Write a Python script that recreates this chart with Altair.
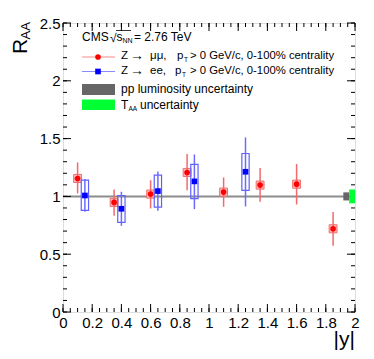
import altair as alt
import pandas as pd
import numpy as np

# ---------------- data ----------------
mu_y = [0.1, 0.35, 0.6, 0.85, 1.1, 1.35, 1.6, 1.85]
mu_raa = [1.155, 0.948, 1.02, 1.207, 1.037, 1.098, 1.106, 0.72]
mu_lo = [1.026, 0.832, 0.896, 1.054, 0.91, 0.953, 0.93, 0.573]
mu_hi = [1.294, 1.06, 1.14, 1.366, 1.164, 1.245, 1.28, 0.864]
mu_sys = [0.035, 0.035, 0.035, 0.035, 0.035, 0.035, 0.035, 0.035]

ee_y = [0.15, 0.4, 0.65, 0.9, 1.25]
ee_raa = [1.008, 0.893, 1.046, 1.13, 1.213]
ee_lo = [0.867, 0.746, 0.876, 0.89, 0.913]
ee_hi = [1.15, 1.04, 1.216, 1.363, 1.51]
ee_sys_lo = [0.879, 0.775, 0.908, 0.98, 1.052]
ee_sys_hi = [1.141, 1.008, 1.184, 1.277, 1.371]

lumi_box = {"x": [1.92], "x2": [1.96], "y": [0.965], "y2": [1.035]}
taa_box = {"x": [1.96], "x2": [2.0], "y": [0.94], "y2": [1.06]}

x_major = [0, 0.2, 0.4, 0.6, 0.8, 1, 1.2, 1.4, 1.6, 1.8, 2]
y_major = [0, 0.5, 1, 1.5, 2, 2.5]

W, H = 292, 289
FONT = "Liberation Sans"
XS = alt.Scale(domain=[0, 2], nice=False, zero=False)
YS = alt.Scale(domain=[0, 2.5], nice=False, zero=False)

mu = pd.DataFrame({"x": mu_y, "v": mu_raa, "lo": mu_lo, "hi": mu_hi, "s": mu_sys})
mu["bx1"] = mu["x"] - 0.027
mu["bx2"] = mu["x"] + 0.027
mu["by1"] = mu["v"] - mu["s"]
mu["by2"] = mu["v"] + mu["s"]

ee = pd.DataFrame({"x": ee_y, "v": ee_raa, "lo": ee_lo, "hi": ee_hi,
                   "slo": ee_sys_lo, "shi": ee_sys_hi})
ee["bx1"] = ee["x"] - 0.025
ee["bx2"] = ee["x"] + 0.025

xaxis = alt.Axis(values=x_major, format=".1~f", ticks=False, domain=False, grid=False,
                 labelFont=FONT, labelFontSize=15, labelColor="black", labelPadding=3,
                 labelFlush=False, labelOverlap=False, title=None)
yaxis = alt.Axis(values=y_major, format=".1~f", ticks=False, domain=False, grid=False,
                 labelFont=FONT, labelFontSize=15, labelColor="black", labelPadding=3,
                 labelOverlap=False, title=None)

base_x = alt.X("x:Q", scale=XS, axis=xaxis)

unity = alt.Chart(pd.DataFrame({"v": [1.0]})).mark_rule(color="#8c8c8c", strokeWidth=2).encode(
    y=alt.Y("v:Q", scale=YS, axis=yaxis), x=alt.value(0), x2=alt.value(W))

mu_box = alt.Chart(mu).mark_rect(fill="#ffb8b8", stroke="#f07070", strokeWidth=1).encode(
    x=alt.X("bx1:Q", scale=XS, axis=xaxis), x2="bx2:Q",
    y=alt.Y("by1:Q", scale=YS, axis=yaxis), y2="by2:Q")
mu_err = alt.Chart(mu).mark_rule(color="#f26a6a", strokeWidth=1.5).encode(
    x=base_x, y=alt.Y("lo:Q", scale=YS, axis=yaxis), y2="hi:Q")
mu_pt = alt.Chart(mu).mark_point(shape="circle", filled=True, color="#ff0000", size=32, opacity=1).encode(
    x=base_x, y=alt.Y("v:Q", scale=YS, axis=yaxis))

ee_box = alt.Chart(ee).mark_rect(fill=None, stroke="#6060ff", strokeWidth=1.2).encode(
    x=alt.X("bx1:Q", scale=XS, axis=xaxis), x2="bx2:Q",
    y=alt.Y("slo:Q", scale=YS, axis=yaxis), y2="shi:Q")
ee_err = alt.Chart(ee).mark_rule(color="#6b6bff", strokeWidth=1.5).encode(
    x=base_x, y=alt.Y("lo:Q", scale=YS, axis=yaxis), y2="hi:Q")
ee_pt = alt.Chart(ee).mark_point(shape="square", filled=True, color="#0000ff", size=32, opacity=1).encode(
    x=base_x, y=alt.Y("v:Q", scale=YS, axis=yaxis))

lumi = alt.Chart(pd.DataFrame(lumi_box)).mark_rect(color="#666666").encode(
    x=alt.X("x:Q", scale=XS, axis=xaxis), x2="x2:Q",
    y=alt.Y("y:Q", scale=YS, axis=yaxis), y2="y2:Q")
taa = alt.Chart(pd.DataFrame(taa_box)).mark_rect(color="#00ff33").encode(
    x=alt.X("x:Q", scale=XS, axis=xaxis), x2="x2:Q",
    y=alt.Y("y:Q", scale=YS, axis=yaxis), y2="y2:Q")

# ---- inner ticks (ROOT style) ----
xt_major = pd.DataFrame({"t": x_major})
xt_minor = pd.DataFrame({"t": [round(v, 2) for v in np.arange(0, 2.0001, 0.05)]})
yt_major = pd.DataFrame({"t": y_major})
yt_minor = pd.DataFrame({"t": [round(v, 2) for v in np.arange(0, 2.5001, 0.1)]})

def xticks(df, L):
    b = alt.Chart(df).mark_rule(color="black", strokeWidth=1)
    xx = alt.X("t:Q", scale=XS, axis=xaxis)
    return [b.encode(x=xx, y=alt.value(H), y2=alt.value(H - L)),
            b.encode(x=xx, y=alt.value(0), y2=alt.value(L))]

def yticks(df, L):
    b = alt.Chart(df).mark_rule(color="black", strokeWidth=1)
    yy = alt.Y("t:Q", scale=YS, axis=yaxis)
    return [b.encode(y=yy, x=alt.value(0), x2=alt.value(L)),
            b.encode(y=yy, x=alt.value(W), x2=alt.value(W - L))]

ticks = xticks(xt_major, 8) + xticks(xt_minor, 4) + yticks(yt_major, 8) + yticks(yt_minor, 4)

# ---- legend & titles (pixel positions relative to plot origin at page (63,23)) ----
OX, OY = 63, 23
def txt(s, px, py, size=12, align="left", baseline="middle", angle=0):
    return alt.Chart(pd.DataFrame({"a": [0]})).mark_text(
        text=s, font=FONT, fontSize=size, color="black", align=align, baseline=baseline,
        angle=angle).encode(x=alt.value(px - OX), y=alt.value(py - OY))

def hline(px1, px2, py, color, sw=1.2):
    return alt.Chart(pd.DataFrame({"a": [0]})).mark_rule(color=color, strokeWidth=sw).encode(
        x=alt.value(px1 - OX), x2=alt.value(px2 - OX), y=alt.value(py - OY))

def box(px1, px2, py1, py2, color):
    return alt.Chart(pd.DataFrame({"a": [0]})).mark_rect(color=color).encode(
        x=alt.value(px1 - OX), x2=alt.value(px2 - OX), y=alt.value(py1 - OY), y2=alt.value(py2 - OY))

def sym(px, py, shape, color, size=30):
    return alt.Chart(pd.DataFrame({"a": [0]})).mark_point(
        shape=shape, filled=True, color=color, size=size, opacity=1).encode(
        x=alt.value(px - OX), y=alt.value(py - OY))

legend = [
    txt("CMS", 82, 37, 12),
    txt("\u221a", 110, 37.5, 12),
    hline(116, 131, 30.5, "black", 0.8),
    txt("s", 116.5, 37, 12),
    txt("NN", 122.5, 41, 7),
    txt("= 2.76 TeV", 134, 37, 12),
    hline(82, 115, 57, "#ff8a8a"),
    sym(98, 57, "circle", "#ff0000", 32),
    txt("Z", 121, 56, 11.5),
    txt("\u2192", 130, 56, 14),
    txt("\u03bc\u03bc,", 150, 56, 11.5),
    txt("p", 177, 56, 11.5),
    txt("T", 184, 60, 6.5),
    txt("> 0 GeV/c, 0-100% centrality", 190, 56, 11.3),
    hline(82, 115, 71.5, "#8a8aff"),
    sym(98, 71.5, "square", "#0000ff", 32),
    txt("Z", 121, 71, 11.5),
    txt("\u2192", 130, 71, 14),
    txt("ee,", 150, 71, 11.5),
    txt("p", 175, 71, 11.5),
    txt("T", 182, 75, 6.5),
    txt("> 0 GeV/c, 0-100% centrality", 190, 71, 11.3),
    box(82, 115, 84, 95, "#666666"),
    txt("pp luminosity uncertainty", 121, 89, 12),
    box(82, 115, 99.5, 110, "#00ff33"),
    txt("T", 121, 105, 12),
    txt("AA", 128.5, 109, 6.5),
    txt("uncertainty", 140, 105, 12),
    # axis titles
    txt("R", 27, 54, 21, align="left", baseline="alphabetic", angle=270),
    txt("AA", 30, 39.5, 13, align="left", baseline="alphabetic", angle=270),
    txt("|y|", 355, 346, 21, align="right", baseline="alphabetic"),
]

chart = alt.layer(unity, *ticks, mu_box, mu_err, mu_pt, ee_box, ee_err, ee_pt, lumi, taa,
                  *legend).properties(
    width=W, height=H,
    autosize=alt.AutoSizeParams(type="none"),
    padding={"left": 55, "top": 15, "right": 10, "bottom": 39},
).configure_view(stroke="black", strokeWidth=1.2).configure(background="white")

chart.save("out.html", embed_options={"renderer": "svg", "actions": False})
